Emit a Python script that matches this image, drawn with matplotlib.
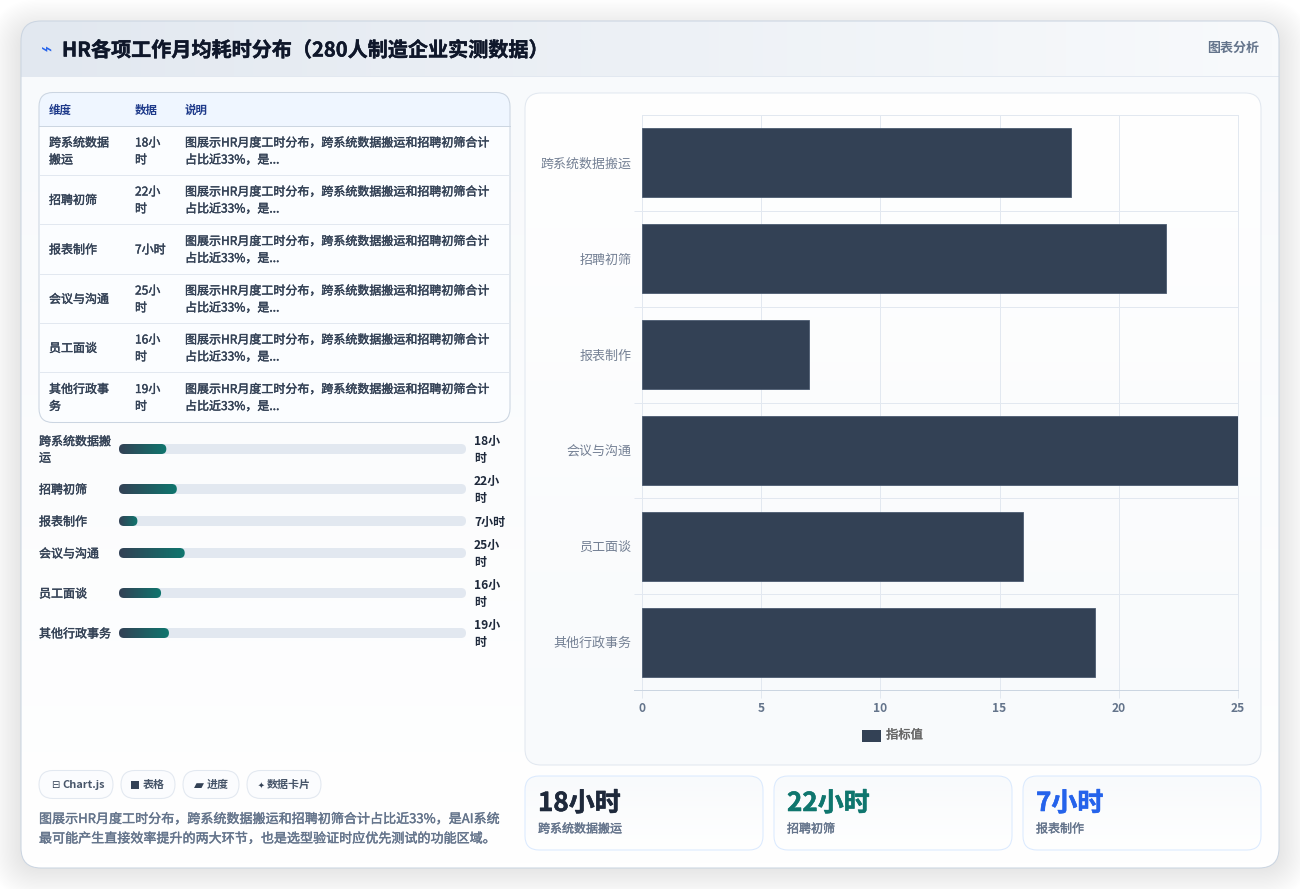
"""HR monthly workload dashboard drawn with matplotlib."""

import numpy as np
import matplotlib
matplotlib.use("Agg")
import matplotlib.pyplot as plt
import matplotlib.patheffects as pe
from matplotlib.colors import LinearSegmentedColormap
from matplotlib.patches import FancyBboxPatch, Rectangle

plt.rcParams["font.family"] = ["Noto Sans CJK SC", "DejaVu Sans"]

# ── Data ──────────────────────────────────────────────────────────────────
CATEGORIES = ["跨系统数据搬运", "招聘初筛", "报表制作", "会议与沟通", "员工面谈", "其他行政事务"]
HOURS = [18, 22, 7, 25, 16, 19]
HOUR_UNIT = "小时"
TABLE_HEADER = ["维度", "数据", "说明"]
NOTE_LINES = ["图展示HR月度工时分布，跨系统数据搬运和招聘初筛合计", "占比近33%，是..."]
CHIPS = [("⊟", "Chart.js"), ("■", "表格"), ("▰", "进度"), ("✦", "数据卡片")]
CAPTION = ["图展示HR月度工时分布，跨系统数据搬运和招聘初筛合计占比近33%，是AI系统",
           "最可能产生直接效率提升的两大环节，也是选型验证时应优先测试的功能区域。"]
TITLE = "HR各项工作月均耗时分布（280人制造企业实测数据）"
X_TICKS = [0, 5, 10, 15, 20, 25]
SERIES_NAME = "指标值"
PROGRESS_MAX = 132

# ── Style constants ───────────────────────────────────────────────────────
W, H = 1300, 889
PX = 0.72  # one css pixel in points at dpi 100
BAR_COLOR = "#334155"
GRID_COLOR = "#e2e8f0"
AXIS_COLOR = "#cbd5e1"
MUTED = "#64748b"
DARK = "#1e293b"
KPI_COLORS = ["#1e293b", "#0f766e", "#2563eb"]
TABLE_ROWS = [126, 175, 224, 274, 323, 372, 422]
PROGRESS_Y = [449, 489, 521, 553, 593, 633]
CHIP_BOXES = [(39, 113), (121, 175), (183, 239), (247, 321)]
CHIP_TEXT_X = [62, 143, 207, 267]
CHIP_ICON_SIZE = [10, 10, 13, 8]
KPI_BOXES = [(525, 763), (774, 1012), (1023, 1261)]


def wrap(text, n):
    return [text[i:i + n] for i in range(0, len(text), n)]


def rounded(ax, x0, y0, x1, y1, r, **kw):
    patch = FancyBboxPatch((x0 + r, y0 + r), x1 - x0 - 2 * r, y1 - y0 - 2 * r,
                           boxstyle=f"round,pad={r},rounding_size={r}", **kw)
    ax.add_patch(patch)
    return patch


def gradient(ax, x0, y0, x1, y1, c0, c1, clip, horizontal=False):
    ramp = np.linspace(0, 1, 256)
    ramp = ramp[None, :] if horizontal else ramp[:, None]
    cmap = LinearSegmentedColormap.from_list("g", [c0, c1])
    im = ax.imshow(ramp, extent=(x0, x1, y1, y0), cmap=cmap, vmin=0, vmax=1,
                   aspect="auto", origin="upper", zorder=clip.get_zorder() + 0.1,
                   interpolation="bilinear")
    im.set_clip_path(clip)
    return im


def label(ax, x, y, text, size, color, weight="normal", ha="left", stroke=0, **kw):
    # no medium cut is installed, so thicken the regular face with a thin stroke
    if weight == "medium":
        weight = "normal"
        stroke = 0.28
    if stroke:
        kw["path_effects"] = [pe.withStroke(linewidth=stroke, foreground=color)]
    return ax.text(x, y + 1, text, fontsize=size * PX, color=color, fontweight=weight,
                   ha=ha, va="center", **kw)


fig = plt.figure(figsize=(W / 100, H / 100), dpi=100, facecolor="white")
bg = fig.add_axes([0, 0, 1, 1], zorder=0)
bg.set_xlim(0, W)
bg.set_ylim(H, 0)
bg.set_autoscale_on(False)
bg.axis("off")

# ── Card with soft shadow ─────────────────────────────────────────────────
for i in range(26):
    grow = 32 - i * 1.3
    rounded(bg, 21 - grow, 31 - grow, 1279 + grow, 868 + grow, 20 + grow,
            fc="black", ec="none", alpha=0.0034, zorder=1)

card = rounded(bg, 21, 21, 1279, 868, 20, fc="white", ec="none", zorder=2)
gradient(bg, 21, 76, 1279, 868, "#f8fafc", "#ffffff", card)
header = gradient(bg, 21, 21, 1279, 76, "#e2e8f0", "#f8fafc", card, horizontal=True)
header.set_zorder(2.2)
bg.plot([21, 1279], [76, 76], color="#e2e8f0", lw=0.7, zorder=2.3)
rounded(bg, 21, 21, 1279, 868, 20, fc="none", ec=AXIS_COLOR, lw=0.75, zorder=2.4)

label(bg, 47, 49, "⌁", 19, "#2563eb", zorder=3, ha="center")
label(bg, 62, 49, TITLE, 20.1, "#0f172a", "bold", stroke=0.3, zorder=3)
label(bg, 1259, 47, "图表分析", 13, MUTED, "bold", ha="right", zorder=3)

# ── Summary table ─────────────────────────────────────────────────────────
table = rounded(bg, 39, 92.5, 510, 422.5, 14, fc="#fbfdff", ec="none", zorder=3)
head_bg = Rectangle((39, 92), 471, 34, fc="#eff6ff", ec="none", zorder=3.1)
bg.add_patch(head_bg)
head_bg.set_clip_path(table)
rounded(bg, 39, 92.5, 510, 422.5, 14, fc="none", ec=AXIS_COLOR, lw=0.75, zorder=3.2)
bg.plot([39, 510], [126, 126], color=AXIS_COLOR, lw=0.7, zorder=3.3)
for x, text in zip([49, 135, 185], TABLE_HEADER):
    label(bg, x, 109, text, 11.5, "#1e3a8a", "bold", zorder=4)

for i, (name, val) in enumerate(zip(CATEGORIES, HOURS)):
    y0, y1 = TABLE_ROWS[i], TABLE_ROWS[i + 1]
    yc = (y0 + y1) / 2
    if i < len(CATEGORIES) - 1:
        bg.plot([39, 510], [y1, y1], color=GRID_COLOR, lw=0.7, zorder=3.3)
    for x, lines in ((49, wrap(name, 5)), (135, wrap(f"{val}{HOUR_UNIT}", 3)), (185, NOTE_LINES)):
        top = yc - 8.5 * (len(lines) - 1)
        for k, line in enumerate(lines):
            label(bg, x, top + k * 17, line, 12, "#334155", "medium", zorder=4)

# ── Progress rows ─────────────────────────────────────────────────────────
for yc, name, val in zip(PROGRESS_Y, CATEGORIES, HOURS):
    track = rounded(bg, 119, yc - 5, 466, yc + 5, 5, fc=GRID_COLOR, ec="none", zorder=3)
    fill_w = val / PROGRESS_MAX * (466 - 119)
    fill = rounded(bg, 119, yc - 5, 119 + fill_w, yc + 5, 5, fc="none", ec="none", zorder=3.2)
    gradient(bg, 119, yc - 5, 119 + fill_w, yc + 5, BAR_COLOR, "#0f766e", fill, horizontal=True)
    for text_x, lines, weight, color in ((39, wrap(name, 6), "medium", "#334155"),
                                         (474, wrap(f"{val}{HOUR_UNIT}", 3), "bold", DARK)):
        top = yc - 8.25 * (len(lines) - 1)
        for k, line in enumerate(lines):
            label(bg, text_x, top + k * 16.5, line, 12, color, weight, zorder=4)

# ── Chips and caption ─────────────────────────────────────────────────────
for (x0, x1), (icon, text), text_x, icon_size in zip(CHIP_BOXES, CHIPS, CHIP_TEXT_X, CHIP_ICON_SIZE):
    rounded(bg, x0, 770.5, x1, 798.5, 14, fc="#fbfcfe", ec=GRID_COLOR, lw=0.75, zorder=3)
    label(bg, text_x - 3, 784, icon, icon_size, "#334155", zorder=4, ha="right")
    label(bg, text_x, 784, text, 11, "#475569", "bold", zorder=4)

for y, line in zip([818.5, 838], CAPTION):
    label(bg, 39, y, line, 13.05, MUTED, "medium", zorder=4)

# ── Chart panel ───────────────────────────────────────────────────────────
panel = rounded(bg, 525, 93, 1261, 765, 16, fc="white", ec="none", zorder=3)
gradient(bg, 525, 93, 1261, 765, "#ffffff", "#f8fafc", panel)
rounded(bg, 525, 93, 1261, 765, 16, fc="none", ec=GRID_COLOR, lw=0.75, zorder=3.3)

ax = fig.add_axes([642 / W, 1 - 690 / H, (1238 - 642) / W, (690 - 115) / H], zorder=2)
ax.patch.set_alpha(0)
positions = np.arange(len(CATEGORIES))
ax.barh(positions, HOURS, height=0.72, color=BAR_COLOR, edgecolor="#4b5b70",
        linewidth=0.6, zorder=3)
ax.set_xlim(0, 25)
ax.set_ylim(len(CATEGORIES) - 0.5, -0.5)
ax.set_xticks(X_TICKS)
ax.set_yticks(positions, CATEGORIES)
ax.set_yticks(positions[:-1] + 0.5, minor=True)
ax.grid(True, axis="x", color=GRID_COLOR, lw=0.72, zorder=0)
ax.grid(True, axis="y", which="minor", color=GRID_COLOR, lw=0.72, zorder=0)
ax.tick_params(axis="x", length=8 * PX, width=0.72, color=GRID_COLOR, labelsize=12 * PX,
               labelcolor=MUTED, pad=3.2)
ax.tick_params(axis="y", which="major", length=0, labelsize=13 * PX, labelcolor="#748094", pad=7.5)
ax.tick_params(axis="y", which="minor", length=8 * PX, width=0.72, color=GRID_COLOR)
for tick in ax.get_xticklabels():
    tick.set_fontweight("bold")
for side, spine in ax.spines.items():
    spine.set_color(AXIS_COLOR if side == "bottom" else GRID_COLOR)
    spine.set_linewidth(0.72)
ax.plot([-8 / 23.84, 0], [len(CATEGORIES) - 0.5] * 2, color=AXIS_COLOR, lw=0.72,
        clip_on=False, zorder=2)

bg.add_patch(Rectangle((862, 730), 19, 12, fc=BAR_COLOR, ec="none", zorder=4))
label(bg, 886, 734, SERIES_NAME, 12.3, "#666666", "medium", zorder=4)

# ── KPI cards ─────────────────────────────────────────────────────────────
for (x0, x1), name, val, color in zip(KPI_BOXES, CATEGORIES, HOURS, KPI_COLORS):
    box = rounded(bg, x0, 776, x1, 850, 14, fc="white", ec="none", zorder=3)
    gradient(bg, x0, 776, x1, 850, "#f8fafc", "#ffffff", box)
    rounded(bg, x0, 776, x1, 850, 14, fc="none", ec="#dbeafe", lw=0.75, zorder=3.3)
    label(bg, x0 + 13, 802.5, f"{val}{HOUR_UNIT}", 26, color, "bold", stroke=0.4, zorder=4)
    label(bg, x0 + 13, 828, name, 12, MUTED, "medium", zorder=4)

fig.savefig("out.png", dpi=100, facecolor="white")
plt.close(fig)
